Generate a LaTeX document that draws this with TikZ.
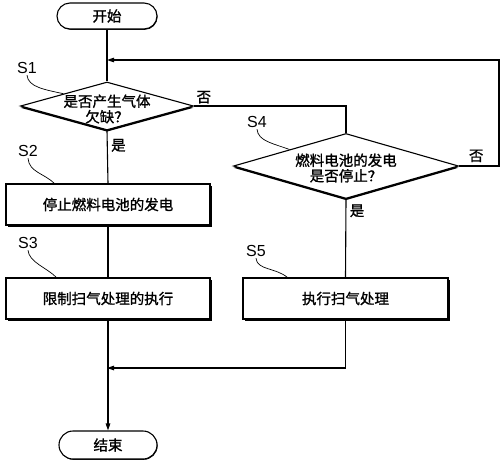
\documentclass[tikz,border=0pt]{standalone}
\usepackage{fontspec}
\setmainfont{Noto Sans CJK SC}[FakeBold=1.2,AutoFakeBold=1.2]
\newfontfamily\stepfont{Liberation Sans}
\usetikzlibrary{shapes.geometric,shapes.misc,shadows,arrows.meta}

\begin{document}
\begin{tikzpicture}[x=1pt,y=-1pt,line width=1.1pt,
    every node/.style={font=\fontsize{14.5}{15.5}\selectfont\bfseries},
    terminal/.style={rounded rectangle,draw,fill=white,minimum width=100pt,minimum height=26pt,inner sep=0pt,
        drop shadow={shadow xshift=0.6pt,shadow yshift=-0.8pt,fill=black,opacity=1}},
    process/.style={rectangle,draw,fill=white,minimum width=204pt,minimum height=41pt,inner sep=0pt,
        drop shadow={shadow xshift=1.5pt,shadow yshift=-1.5pt,fill=black,opacity=1}},
    decision/.style={diamond,draw,fill=white,inner sep=0pt,
        drop shadow={shadow xshift=0pt,shadow yshift=-1.8pt,fill=black,opacity=1}},
    question/.style={align=center,inner sep=0pt},
    steplabel/.style={font=\stepfont\fontsize{16}{16}\selectfont,inner sep=1pt},
    leader/.style={line width=0.7pt},
    flow/.style={-{Triangle[length=7pt,width=4.5pt]}}]
    \useasboundingbox (0,0) rectangle (500,467);

    % steps of the flow
    \node[terminal] (start) at (107,16) {开始};
    \node[decision,minimum width=173pt,minimum height=48pt,
        label={[question,yshift=-3pt]center:是否产生气体\\欠缺？}] (s1) at (107,106) {};
    \node[process] (s2) at (108,204.5) {停止燃料电池的发电};
    \node[process] (s3) at (108,298.5) {限制扫气处理的执行};
    \node[decision,minimum width=225pt,minimum height=65pt,
        label={[question,yshift=-2pt]center:燃料电池的发电\\是否停止？}] (s4) at (346,166) {};
    \node[process,minimum width=205pt] (s5) at (345.5,298.5) {执行扫气处理};
    \node[terminal,minimum width=98pt,minimum height=28pt] (end) at (108,445) {结束};

    % step numbers
    \node[steplabel] (l1) at (27,68) {S1};
    \node[steplabel] (l2) at (28,151) {S2};
    \node[steplabel] (l3) at (28,243) {S3};
    \node[steplabel] (l4) at (257,122) {S4};
    \node[steplabel] (l5) at (256,251) {S5};

    \coordinate (loop) at (107,60);
    \coordinate (rt) at (499,166);
    \coordinate (merge) at (107,368);

    % connectors
    \draw (start.south) -- (s1.north);
    \draw (s1.south) -- node[right,pos=0.28] {是} (s2.north);
    \draw (s2.south) -- (s3.north);
    \draw (s1.east) -| node[pos=0,above right,inner sep=2pt] {否} (s4.north);
    \draw (s4.south) -- node[right,pos=0.15] {是} (s5.north);
    \draw[flow] (s4.east) -- node[pos=0,above right,xshift=6pt] {否} (rt) |- (loop);
    \draw[flow] (s3.south) -- (end.north);
    \draw[flow] (s5.south) |- (merge);

    % leaders from step numbers
    \draw[leader] (l1.south) .. controls +(1,12) and +(-18,-4) .. (s1.north west);
    \draw[leader] (l2.south) .. controls +(1,14) and +(-10,-10) .. ([xshift=49pt]s2.north west);
    \draw[leader] (l3.south) .. controls +(1,12) and +(-10,-10) .. ([xshift=51pt]s3.north west);
    \draw[leader] (l4.south) .. controls +(1,12) and +(-16,-6) .. (s4.north west);
    \draw[leader] (l5.south) .. controls +(1,12) and +(-12,-10) .. ([xshift=45pt]s5.north west);
\end{tikzpicture}
\end{document}
